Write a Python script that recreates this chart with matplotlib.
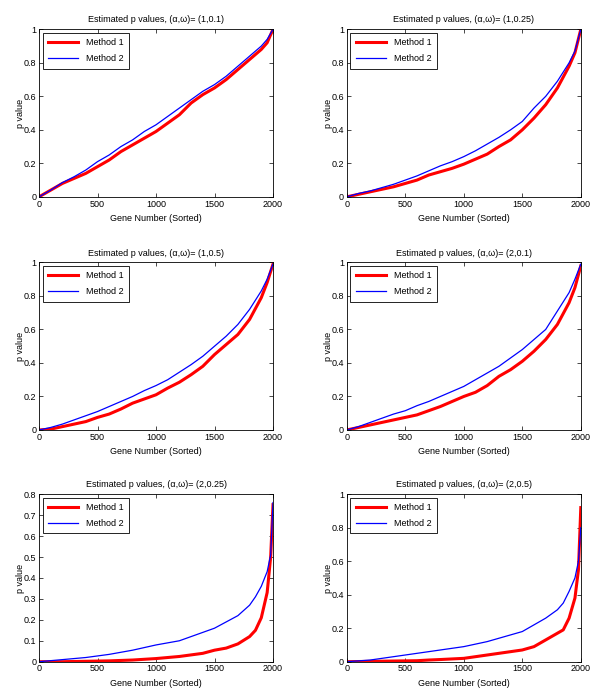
import matplotlib
matplotlib.use("Agg")
import matplotlib.pyplot as plt

plt.rcParams['font.family'] = ['Liberation Sans', 'DejaVu Sans']

# panel parameters (alpha, omega)
params = ["(1,0.1)", "(1,0.25)", "(1,0.5)", "(2,0.1)", "(2,0.25)", "(2,0.5)"]

# values, genes sorted 0..2000
genes_a = [0, 100, 200, 300, 400, 500, 600, 700, 800, 900, 1000, 1100, 1200,
           1300, 1400, 1500, 1600, 1700, 1800, 1900, 1950, 2000]

m1_p1 = [0, 0.04, 0.08, 0.11, 0.14, 0.18, 0.22, 0.27, 0.31, 0.35, 0.39, 0.44, 0.49,
         0.56, 0.61, 0.65, 0.70, 0.76, 0.82, 0.88, 0.92, 1.0]
m2_p1 = [0, 0.04, 0.085, 0.12, 0.16, 0.21, 0.25, 0.30, 0.34, 0.39, 0.43, 0.48, 0.53,
         0.58, 0.63, 0.67, 0.72, 0.78, 0.84, 0.90, 0.94, 1.0]

m1_p2 = [0, 0.015, 0.03, 0.045, 0.06, 0.08, 0.10, 0.13, 0.15, 0.17, 0.195, 0.225, 0.255,
         0.30, 0.34, 0.40, 0.47, 0.55, 0.65, 0.78, 0.86, 1.0]
m2_p2 = [0, 0.02, 0.035, 0.055, 0.075, 0.10, 0.125, 0.155, 0.185, 0.21, 0.24, 0.275, 0.315,
         0.355, 0.40, 0.45, 0.53, 0.60, 0.69, 0.80, 0.87, 1.0]

m1_p3 = [0, 0.005, 0.02, 0.035, 0.05, 0.075, 0.095, 0.125, 0.16, 0.185, 0.21, 0.25, 0.285,
         0.33, 0.38, 0.45, 0.51, 0.57, 0.66, 0.79, 0.88, 0.99]
m2_p3 = [0, 0.015, 0.035, 0.06, 0.085, 0.11, 0.14, 0.17, 0.20, 0.235, 0.265, 0.30, 0.345,
         0.39, 0.44, 0.50, 0.56, 0.63, 0.72, 0.83, 0.90, 0.99]

m1_p4 = [0, 0.015, 0.03, 0.045, 0.06, 0.075, 0.09, 0.115, 0.14, 0.17, 0.20, 0.225, 0.265,
         0.32, 0.36, 0.41, 0.47, 0.54, 0.63, 0.76, 0.85, 0.98]
m2_p4 = [0, 0.02, 0.045, 0.07, 0.095, 0.115, 0.145, 0.17, 0.20, 0.23, 0.26, 0.30, 0.34,
         0.38, 0.43, 0.48, 0.54, 0.60, 0.71, 0.82, 0.90, 0.99]

genes_b = [0, 200, 400, 600, 700, 800, 1000, 1200, 1400, 1500, 1600, 1700, 1800,
           1850, 1900, 1950, 1980, 2000]

m1_p5 = [0, 0.0, 0.002, 0.004, 0.006, 0.008, 0.015, 0.025, 0.04, 0.055, 0.065, 0.085, 0.12,
         0.15, 0.21, 0.33, 0.50, 0.75]
m2_p5 = [0, 0.01, 0.02, 0.035, 0.045, 0.055, 0.08, 0.10, 0.14, 0.16, 0.19, 0.22, 0.27,
         0.31, 0.36, 0.43, 0.51, 0.76]

m1_p6 = [0, 0.002, 0.004, 0.006, 0.01, 0.013, 0.02, 0.04, 0.06, 0.07, 0.09, 0.13, 0.17,
         0.19, 0.26, 0.38, 0.55, 0.92]
m2_p6 = [0, 0.01, 0.03, 0.05, 0.06, 0.07, 0.09, 0.12, 0.16, 0.18, 0.22, 0.26, 0.31,
         0.35, 0.42, 0.50, 0.60, 0.80]

panels = [
    (genes_a, m1_p1, m2_p1, 1.0, 0.2),
    (genes_a, m1_p2, m2_p2, 1.0, 0.2),
    (genes_a, m1_p3, m2_p3, 1.0, 0.2),
    (genes_a, m1_p4, m2_p4, 1.0, 0.2),
    (genes_b, m1_p5, m2_p5, 0.8, 0.1),
    (genes_b, m1_p6, m2_p6, 1.0, 0.2),
]

# axes boxes in figure fractions [left, bottom, width, height]
lefts = [0.065, 0.578]
bottoms = [0.718, 0.384, 0.052]
w, h = 0.39, 0.240

fig = plt.figure(figsize=(6, 6.98), dpi=100)
fs = 6.5

for i, (g, m1, m2, ymax, step) in enumerate(panels):
    ax = fig.add_axes([lefts[i % 2], bottoms[i // 2], w, h])
    ax.plot(g, m1, color='#ff0000', lw=2.2, label='Method 1')
    ax.plot(g, m2, color='#0000ff', lw=0.9, label='Method 2')
    ax.set_xlim(0, 2000)
    ax.set_ylim(0, ymax)
    ax.set_xticks([0, 500, 1000, 1500, 2000])
    nt = int(round(ymax / step))
    yt = [round(k * step, 2) for k in range(nt + 1)]
    ax.set_yticks(yt)
    ax.set_yticklabels([('%g' % v) for v in yt])
    ax.tick_params(labelsize=fs, direction='in', length=3, width=0.5,
                   top=True, right=True, pad=2)
    for s in ax.spines.values():
        s.set_linewidth(0.6)
    ax.set_xlabel('Gene Number (Sorted)', fontsize=fs, labelpad=4)
    ax.set_ylabel('p value', fontsize=fs, labelpad=-1)
    ax.set_title('Estimated p values, (\u03b1,\u03c9)= ' + params[i], fontsize=fs, pad=5)
    leg = ax.legend(loc='upper left', fontsize=fs, fancybox=False, framealpha=1,
                    edgecolor='black', handlelength=3.3, borderaxespad=0.4,
                    borderpad=0.6, labelspacing=0.75, handletextpad=0.9)
    leg.get_frame().set_linewidth(0.6)

fig.savefig('out.png', dpi=100)
